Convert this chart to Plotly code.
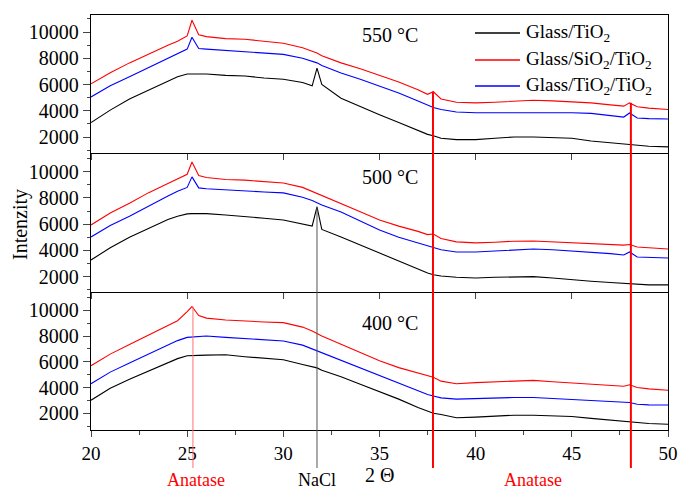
import plotly.graph_objects as go

# ---------------- data ----------------
two_theta = [20, 21, 22, 23, 24, 24.5, 25, 25.25, 25.6, 26, 27, 28, 29, 30, 31, 31.5, 31.75, 32,
             33, 34, 35, 36, 37, 37.5, 37.8, 38.2, 39, 40, 41, 42, 43, 44, 45, 46, 47, 47.7, 48,
             48.4, 49, 50]

# 550 °C
t550_glass_tio2 = [3100, 4050, 4900, 5600, 6300, 6600, 6800, 6800, 6800, 6800, 6700, 6650, 6500, 6400,
                   6150, 5900, 7250, 6000, 4950, 4300, 3700, 3100, 2500, 2200, 2100, 1900, 1800, 1800,
                   1900, 2000, 2000, 1950, 1900, 1700, 1550, 1500, 1450, 1350, 1300, 1250]
t550_glass_sio2_tio2 = [6050, 6900, 7650, 8350, 9000, 9300, 9700, 10900, 9800, 9650, 9500, 9450, 9300,
                        9150, 8800, 8550, 8400, 8200, 7650, 7200, 6700, 6200, 5600, 5250, 5450, 4900,
                        4650, 4600, 4650, 4750, 4800, 4750, 4700, 4600, 4450, 4350, 4600, 4300, 4200,
                        4100]
t550_glass_tio2_tio2 = [5050, 5900, 6600, 7300, 8000, 8350, 8700, 9600, 8750, 8700, 8600, 8550, 8450,
                        8300, 8000, 7750, 7650, 7450, 6880, 6400, 5900, 5350, 4750, 4400, 4250, 4100,
                        3900, 3850, 3850, 3900, 3900, 3900, 3850, 3800, 3650, 3520, 3830, 3450, 3400,
                        3370]

# 500 °C
t500_glass_tio2 = [3270, 4200, 5000, 5700, 6350, 6600, 6780, 6800, 6800, 6800, 6700, 6600, 6450, 6320,
                   6050, 5860, 7320, 5600, 5020, 4400, 3800, 3200, 2600, 2280, 2150, 2050, 1950, 1900,
                   1950, 2000, 2000, 1900, 1750, 1650, 1550, 1500, 1450, 1400, 1370, 1370]
t500_glass_sio2_tio2 = [5940, 6850, 7600, 8400, 9100, 9450, 9800, 10740, 9700, 9550, 9400, 9350, 9250,
                        9140, 8800, 8500, 8350, 8150, 7610, 6950, 6320, 5850, 5450, 5200, 5250, 4900,
                        4650, 4570, 4620, 4700, 4720, 4650, 4550, 4490, 4420, 4400, 4450, 4260, 4200,
                        4110]
t500_glass_tio2_tio2 = [5020, 5900, 6600, 7400, 8150, 8500, 8800, 9600, 8760, 8700, 8600, 8500, 8450,
                        8380, 8050, 7800, 7650, 7450, 6930, 6250, 5560, 5000, 4550, 4340, 4200, 4050,
                        3880, 3880, 3950, 4050, 4110, 4050, 3950, 3880, 3750, 3650, 3880, 3500, 3450,
                        3420]

# 400 °C
t400_glass_tio2 = [3020, 3950, 4650, 5300, 5950, 6250, 6470, 6500, 6500, 6520, 6550, 6400, 6300, 6160,
                   5800, 5600, 5530, 5350, 4840, 4250, 3690, 3100, 2450, 2150, 2000, 1900, 1650, 1700,
                   1800, 1850, 1850, 1800, 1750, 1600, 1450, 1350, 1300, 1250, 1200, 1150]
t400_glass_sio2_tio2 = [5700, 6600, 7350, 8100, 8800, 9200, 9900, 10300, 9600, 9400, 9250, 9150, 9100,
                        9050, 8700, 8400, 8200, 8000, 7370, 6700, 6090, 5550, 5100, 4910, 4800, 4500,
                        4300, 4380, 4450, 4500, 4560, 4450, 4350, 4220, 4150, 4100, 4220, 4000, 3900,
                        3790]
t400_glass_tio2_tio2 = [4300, 5200, 5900, 6600, 7300, 7650, 7900, 7930, 7980, 8010, 7900, 7800, 7700,
                        7620, 7300, 7000, 6850, 6700, 6160, 5550, 4940, 4300, 3750, 3460, 3350, 3200,
                        3100, 3150, 3200, 3230, 3230, 3150, 3100, 3020, 2900, 2850, 2840, 2700, 2650,
                        2640]

series_names = ["Glass/TiO<sub>2</sub>", "Glass/SiO<sub>2</sub>/TiO<sub>2</sub>",
                "Glass/TiO<sub>2</sub>/TiO<sub>2</sub>"]
series_colors = ["#000000", "#ff0000", "#0000ff"]
temperatures = ["550 °C", "500 °C", "400 °C"]
y_ticks = [2000, 4000, 6000, 8000, 10000]
x_ticks = [20, 25, 30, 35, 40, 45, 50]

anatase_peaks = [25.3, 37.78, 48.07]
anatase_peak_heights = [10300, 5450, 4600]   # red curve value where each marker line starts
nacl_peak = 31.75
nacl_peak_height = 7320                       # black curve (500 °C) peak

panels = [
    [t550_glass_tio2, t550_glass_sio2_tio2, t550_glass_tio2_tio2],
    [t500_glass_tio2, t500_glass_sio2_tio2, t500_glass_tio2_tio2],
    [t400_glass_tio2, t400_glass_sio2_tio2, t400_glass_tio2_tio2],
]

# ---------------- figure ----------------
W, H = 679, 491
ml, mr, mt, mb = 91, 11, 15, 61
ph = H - mt - mb
pw = W - ml - mr
FONT = "Liberation Serif, Times New Roman, serif"

fig = go.Figure()
axis_names = [("x", "y"), ("x2", "y2"), ("x3", "y3")]
for p, data in enumerate(panels):
    xa, ya = axis_names[p]
    for s in range(3):
        fig.add_trace(go.Scatter(x=two_theta, y=data[s], mode="lines",
                                 line=dict(color=series_colors[s], width=1.1),
                                 xaxis=xa, yaxis=ya, showlegend=False, hoverinfo="skip"))

# panel domains (pixel boundaries 15,153,292,430)
b1 = (H - mb - 153) / ph
b2 = (H - mb - 292) / ph
domains = [[b1, 1.0], [b2, b1], [0.0, b2]]
yranges = [[780, 11300], [830, 11420], [700, 11430]]

layout = dict(
    width=W, height=H, autosize=False, margin=dict(l=ml, r=mr, t=mt, b=mb, pad=0),
    plot_bgcolor="white", paper_bgcolor="white",
    font=dict(family=FONT, size=18, color="black"),
    showlegend=False,
)
for p in range(3):
    sfx = "" if p == 0 else str(p + 1)
    bottom = (p == 2)
    layout["xaxis" + sfx] = dict(
        domain=[0, 1], range=[20, 50], anchor="y" + sfx, automargin=False,
        tickvals=x_ticks, showticklabels=bottom, ticks="outside", ticklen=6, tickwidth=1.3,
        showline=True, linecolor="black", linewidth=1.4, mirror=(p == 0), showgrid=False,
        zeroline=False, tickfont=dict(size=19),
        minor=dict(dtick=2.5, ticks="outside", ticklen=4, tickwidth=1.2) if bottom else None,
    )
    layout["yaxis" + sfx] = dict(
        domain=domains[p], range=yranges[p], anchor="x" + sfx, automargin=False,
        tickvals=y_ticks, tickformat="d", ticks="outside", ticklen=7, tickwidth=1.3,
        showline=True, linecolor="black", linewidth=1.4, mirror=True, showgrid=False,
        zeroline=False, tickfont=dict(size=20),
        minor=dict(dtick=1000, tick0=0, ticks="outside", ticklen=3, tickwidth=1.2),
    )
fig.update_layout(**layout)

shapes = []
below_end = (H - mb - 468) / ph  # extends below plot area


def marker_line(xv, start_panel, start_val, color, width):
    segs = []
    ax = ["y", "y2", "y3"]
    for p in range(start_panel, 3):
        y0 = start_val if p == start_panel else yranges[p][1]
        segs.append(dict(type="line", xref="x", yref=ax[p], x0=xv, x1=xv,
                         y0=y0, y1=yranges[p][0], line=dict(color=color, width=width)))
    segs.append(dict(type="line", xref="x", yref="paper", x0=xv, x1=xv, y0=0, y1=below_end,
                     line=dict(color=color, width=width)))
    return segs


shapes += marker_line(anatase_peaks[0], 2, anatase_peak_heights[0], "#ff7070", 1)
shapes += marker_line(anatase_peaks[1], 0, anatase_peak_heights[1], "#ff0000", 2)
shapes += marker_line(anatase_peaks[2], 0, anatase_peak_heights[2], "#ff0000", 2)
shapes += marker_line(nacl_peak, 1, nacl_peak_height, "#555555", 1)

# manual legend
leg_rows_px = [33, 60, 86]
for s in range(3):
    yp = (H - mb - leg_rows_px[s]) / ph
    shapes.append(dict(type="line", xref="paper", yref="paper",
                       x0=(475 - ml) / pw, x1=(520 - ml) / pw, y0=yp, y1=yp,
                       line=dict(color=series_colors[s], width=1.3)))
fig.update_layout(shapes=shapes)

ann = []
for s in range(3):
    yp = (H - mb - leg_rows_px[s]) / ph
    ann.append(dict(text=series_names[s], xref="paper", yref="paper", x=(524 - ml) / pw, y=yp,
                    xanchor="left", yanchor="middle", showarrow=False, font=dict(size=19)))

temp_rows_px = [35, 177, 323]
for p in range(3):
    ann.append(dict(text=temperatures[p], xref="paper", yref="paper",
                    x=(390 - ml) / pw, y=(H - mb - temp_rows_px[p]) / ph,
                    xanchor="center", yanchor="middle", showarrow=False, font=dict(size=20)))

lab_y = (H - mb - 491) / ph
for txt, xv, col in [("Anatase", 25.45, "#ff0000"), ("Anatase", 43.0, "#ff0000"),
                     ("NaCl", nacl_peak, "black")]:
    ann.append(dict(text=txt, xref="x3", yref="paper", x=xv, y=lab_y, showarrow=False,
                    borderpad=0, font=dict(size=18, color=col), xanchor="center",
                    yanchor="bottom"))
ann.append(dict(text="2 Θ", xref="x3", yref="paper", x=35.0, y=(H - mb - 475) / ph,
                showarrow=False, borderpad=0, font=dict(size=20), xanchor="center",
                yanchor="middle"))
ann.append(dict(text="Intenzity", xref="paper", yref="paper", x=(20 - ml) / pw,
                y=(H - mb - 225) / ph, showarrow=False, textangle=-90,
                font=dict(size=20), xanchor="center", yanchor="middle"))
fig.update_layout(annotations=ann)

fig.write_html("out.html", config={"displayModeBar": False},
               post_script="document.body.style.margin='0';")
